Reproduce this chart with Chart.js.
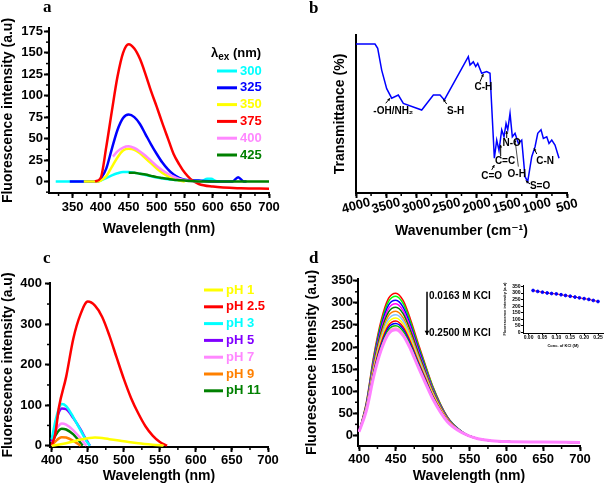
<!DOCTYPE html>
<html>
<head>
<meta charset="utf-8">
<title>Fluorescence panels</title>
<script src="https://cdn.jsdelivr.net/npm/chart.js@4.4.1/dist/chart.umd.min.js"></script>
<style>
  body { margin: 0; background: #fff; }
  #fig { position: relative; width: 608px; height: 485px; overflow: hidden; }
  #fig canvas { position: absolute; }
  .tag { position: absolute; font: bold 17px/17px "Liberation Serif", "DejaVu Serif", serif; color: #000; }
</style>
</head>
<body>
<div id="fig">
  <canvas id="chartA" width="304" height="240" style="left:0;top:0"></canvas>
  <canvas id="chartB" width="304" height="240" style="left:304px;top:0"></canvas>
  <canvas id="chartC" width="304" height="245" style="left:0;top:240px"></canvas>
  <canvas id="chartD" width="304" height="245" style="left:304px;top:240px"></canvas>
  <canvas id="chartInset" width="138" height="82" style="left:470px;top:268px"></canvas>
  <div class="tag" style="left:43px;top:-2px">a</div>
  <div class="tag" style="left:309px;top:-1px">b</div>
  <div class="tag" style="left:43px;top:249px">c</div>
  <div class="tag" style="left:309px;top:249px">d</div>
</div>
<script>
// ---- panel a : excitation wavelength series ----
var aLabels = ['300', '325', '350', '375', '400', '425'];
var aColors = ['#00ffff', '#0000ff', '#ffff00', '#ff0000', '#ff88ff', '#008000'];
var a300x = [320, 395, 400, 410, 420, 430, 440, 450, 460, 470, 480, 490, 500, 520, 550, 580, 590, 597, 605, 612];
var a300y = [0, 0, 1, 4, 7, 9.5, 11, 11, 10, 9, 7.5, 6, 4.5, 2.5, 1, 0.5, 3, 3, 0.5, 0];
var a325x = [345, 395, 400, 410, 420, 430, 440, 450, 460, 470, 480, 490, 500, 510, 520, 530, 540, 550, 575, 600, 635, 645, 655, 660];
var a325y = [0, 0, 3, 15, 38, 60, 74, 78, 75, 67, 55, 43, 32, 22, 14, 8, 4, 2, 1, 0, 0, 5, 0, 0];
var a350x = [370, 395, 400, 410, 420, 430, 440, 450, 460, 470, 480, 490, 500, 510, 520, 530, 540, 550];
var a350y = [0, 0, 1, 6, 17, 28, 36, 38, 37, 33, 27, 21, 15, 10, 6, 3, 1, 0];
var a375x = [390, 400, 410, 420, 430, 440, 450, 460, 470, 480, 490, 500, 510, 520, 530, 540, 550, 560, 575, 600, 650, 700];
var a375y = [0, 4, 40, 82, 122, 150, 160, 155, 143, 125, 105, 87, 68, 50, 32, 20, 10, 3, -3, -6, -8, -8.5];
var a400x = [422, 430, 440, 450, 460, 470, 480, 490, 500, 510, 520, 530, 540, 550, 560, 580];
var a400y = [29, 35, 39.5, 41, 39, 35, 30, 24, 18, 13, 9, 5.5, 3, 1.5, 0.5, 0];
var a425x = [450, 460, 470, 480, 490, 500, 510, 520, 530, 540, 550, 560, 580, 700];
var a425y = [10, 10, 9, 8, 6.5, 5, 4, 3, 2, 1.5, 1, 0.5, 0, 0];
var aXTicks = [350, 400, 450, 500, 550, 600, 650, 700];
var aYTicks = [0, 25, 50, 75, 100, 125, 150, 175];

// ---- panel b : IR spectrum ----
var irWave = [4000, 3685, 3640, 3574, 3491, 3408, 3298, 3215, 2910, 2717, 2606, 2535, 2137, 2109, 2054, 2014, 1981, 1915, 1832, 1777,
              1705, 1666, 1628, 1583, 1545, 1511, 1483, 1445, 1407, 1362, 1307, 1251, 1196, 1152, 1085, 1030, 985, 931, 892, 836, 798, 753, 699, 632];
var irTrans = [94.3, 94.3, 91.6, 77.8, 66, 60, 62, 56.7, 52.5, 62, 62, 58.9, 86.3, 81, 83, 80, 82, 75.8, 76.8, 75.8,
               22, 33.5, 27, 40, 35.6, 44, 40, 50.4, 35.6, 37.8, 31.4, 33.5, 10.3, 7.2, 23, 29.3, 37.8, 40, 34.6, 35.6, 31.4, 33.5, 30.4, 22];
var irBands = ['-OH/NH\u2082', 'S-H', 'C-H', 'C=O', 'C=C', 'N-O', 'O-H', 'S=O', 'C-N'];
var irBandX = [3381, 2346, 1888, 1749, 1528, 1417, 1334, 947, 864];
var irBandY = [51.9, 51.9, 66.9, 10.3, 19.8, 31.4, 12, 4, 20.4];
var irXTicks = [4000, 3500, 3000, 2500, 2000, 1500, 1000, 500];

// ---- panel c : pH series ----
var cLabels = ['pH 1', 'pH 2.5', 'pH 3', 'pH 5', 'pH 7', 'pH 9', 'pH 11'];
var cColors = ['#ffff00', '#ff0000', '#00ffff', '#8000ff', '#ff88ff', '#ff8000', '#008000'];
var c1x = [400, 420, 440, 460, 480, 500, 520, 540, 555];
var c1y = [0, 6, 15, 20, 16, 11, 6, 2.5, 0.5];
var c25x = [400, 405, 410, 420, 430, 440, 450, 460, 470, 480, 490, 500, 510, 520, 530, 540, 550, 560];
var c25y = [0, 30, 95, 170, 265, 325, 356, 346, 318, 272, 218, 165, 118, 80, 48, 25, 9, 0];
var c3x = [400, 405, 410, 414, 420, 430, 440, 448, 453];
var c3y = [15, 60, 92, 103, 98, 70, 38, 12, 0];
var c5x = [400, 405, 410, 414, 420, 430, 440, 448, 453];
var c5y = [10, 50, 83, 92, 90, 68, 40, 14, 0];
var c7x = [400, 405, 410, 414, 420, 430, 440, 448];
var c7y = [8, 35, 50, 55, 52, 38, 18, 0];
var c9x = [400, 405, 410, 414, 420, 430, 440];
var c9y = [2, 10, 18, 21, 20, 12, 0];
var c11x = [400, 405, 410, 414, 420, 430, 443];
var c11y = [5, 25, 38, 42, 40, 28, 0];
var cXTicks = [400, 450, 500, 550, 600, 650, 700];
var cYTicks = [0, 100, 200, 300, 400];

// ---- panel d : KCl quenching ----
var dWave = [400, 410, 420, 430, 440, 450, 460, 470, 480, 490, 500, 520, 540, 560, 580, 600, 650, 700];
var dColors = ['#ff0000', '#00ff00', '#0000ff', '#ff00ff', '#008000', '#ff8000', '#80c0ff', '#ffff00', '#ff0000', '#0000ff', '#00c000', '#ffb0b0', '#ff80ff'];
var dCurves = [
  [8, 75, 180, 260, 310, 322, 305, 262, 210, 160, 112, 42, 8, -7, -12, -14, -15, -16],
  [8, 73, 176, 254, 303, 315, 298, 256, 205, 157, 110, 41, 8, -7, -12, -14, -15, -16],
  [8, 71, 171, 247, 295, 306, 290, 249, 200, 152, 106, 40, 8, -7, -12, -14, -15, -16],
  [8, 69, 167, 240, 287, 298, 282, 243, 194, 148, 104, 39, 7, -7, -12, -14, -15, -16],
  [8, 68, 162, 234, 279, 290, 275, 236, 189, 144, 101, 38, 7, -7, -12, -14, -15, -16],
  [8, 65, 157, 227, 271, 281, 266, 229, 183, 140, 98, 37, 7, -7, -12, -14, -15, -16],
  [8, 64, 153, 220, 263, 273, 259, 222, 178, 136, 95, 35, 7, -7, -12, -14, -15, -16],
  [8, 62, 149, 215, 256, 266, 252, 217, 173, 132, 93, 35, 7, -7, -12, -14, -15, -16],
  [8, 60, 145, 209, 249, 259, 245, 211, 169, 129, 90, 34, 6, -7, -12, -14, -15, -16],
  [8, 59, 142, 204, 244, 253, 240, 206, 165, 126, 88, 33, 6, -7, -12, -14, -15, -16],
  [8, 58, 139, 200, 239, 248, 235, 202, 162, 123, 86, 32, 6, -7, -12, -14, -15, -16],
  [8, 57, 136, 196, 234, 243, 230, 198, 158, 121, 85, 32, 6, -7, -12, -14, -15, -16],
  [8, 56, 134, 193, 230, 239, 226, 195, 156, 119, 83, 31, 6, -7, -12, -14, -15, -16]
];
var dXTicks = [400, 450, 500, 550, 600, 650, 700];
var dYTicks = [0, 50, 100, 150, 200, 250, 300, 350];

// ---- inset : intensity vs KCl ----
var kclConc = [0.0163, 0.033, 0.05, 0.067, 0.083, 0.1, 0.117, 0.133, 0.15, 0.167, 0.183, 0.2, 0.217, 0.233, 0.25];
var kclInt = [320, 313, 307, 301, 297, 294, 288, 282, 276, 270, 264, 258, 252, 244, 236];
var insetXTicks = [0, 0.05, 0.1, 0.15, 0.2, 0.25];
var insetYTicks = [0, 50, 100, 150, 200, 250, 300, 350];

var FAM = '"Liberation Sans", "DejaVu Sans", Arial, sans-serif';
Chart.defaults.font.family = FAM;
Chart.defaults.font.weight = 'bold';
Chart.defaults.color = '#000';

function series(label, xs, ys, color, width) {
  return {
    label: label,
    data: xs.map(function (x, i) { return { x: x, y: ys[i] }; }),
    borderColor: color, backgroundColor: color, borderWidth: width,
    pointRadius: 0, fill: false, cubicInterpolationMode: 'monotone'
  };
}

function axis(box, a, horizontal) {
  return {
    type: 'linear', position: horizontal ? 'bottom' : 'left',
    min: a.min, max: a.max, reverse: !!a.reverse,
    afterBuildTicks: function (s) { s.ticks = a.ticks.map(function (v) { return { value: v }; }); },
    afterFit: function (s) { if (horizontal) s.height = box.h - box.b; else s.width = box.l; },
    border: { color: '#000', width: box.lw },
    grid: { display: a.ticks.length > 0, drawOnChartArea: false, tickLength: box.tick, tickColor: '#000', tickWidth: box.lw },
    ticks: {
      display: a.labels !== false, color: '#000', autoSkip: false, maxRotation: 0, padding: a.pad || 0,
      font: { size: box.fs, weight: 'bold' }, callback: a.fmt || function (v) { return String(v); }
    },
    title: { display: !!a.title, text: a.title, color: '#000', font: { size: box.ts, weight: 'bold' }, padding: a.tpad || 0 }
  };
}

function makeChart(id, box, datasets, xa, ya, plugins) {
  return new Chart(document.getElementById(id), {
    type: 'line',
    data: { datasets: datasets },
    options: {
      responsive: false, animation: false, events: [],
      layout: { padding: { left: 0, top: box.t, right: box.w - box.r, bottom: 0 } },
      plugins: { legend: { display: false }, tooltip: { enabled: false } },
      scales: { x: axis(box, xa, true), y: axis(box, ya, false) }
    },
    plugins: plugins || []
  });
}

// small unlabeled ticks between the labeled ones
function minorTicks(steps, len, width) {
  return {
    id: 'minorTicks',
    afterDraw: function (chart) {
      var ctx = chart.ctx;
      ctx.save();
      ctx.strokeStyle = '#000'; ctx.lineWidth = width;
      Object.keys(steps).forEach(function (k) {
        var s = chart.scales[k], step = steps[k];
        var lo = Math.min(s.min, s.max), hi = Math.max(s.min, s.max);
        for (var v = Math.ceil(lo / step) * step; v <= hi + 1e-9; v += step) {
          var p = s.getPixelForValue(v);
          ctx.beginPath();
          if (k === 'x') { ctx.moveTo(p, s.top); ctx.lineTo(p, s.top + len); }
          else { ctx.moveTo(s.right, p); ctx.lineTo(s.right - len, p); }
          ctx.stroke();
        }
      });
      ctx.restore();
    }
  };
}

// legend with coloured text, drawn inside the plot
function lineLegend(cfg) {
  return {
    id: 'lineLegend',
    afterDraw: function (chart) {
      var ctx = chart.ctx;
      ctx.save();
      ctx.textBaseline = 'middle'; ctx.textAlign = 'left';
      if (cfg.title) cfg.title(ctx);
      chart.data.datasets.forEach(function (ds, i) {
        var y = cfg.y + i * cfg.dy;
        ctx.strokeStyle = ds.borderColor; ctx.lineWidth = 3;
        ctx.beginPath(); ctx.moveTo(cfg.x, y); ctx.lineTo(cfg.x + cfg.len, y); ctx.stroke();
        ctx.fillStyle = ds.borderColor; ctx.font = 'bold 13px ' + FAM;
        ctx.fillText(ds.label, cfg.x + cfg.len + 3, y);
      });
      ctx.restore();
    }
  };
}

// text and arrows placed in data coordinates
function notes(texts, arrows, font) {
  return {
    id: 'notes',
    afterDatasetsDraw: function (chart) {
      var ctx = chart.ctx, sx = chart.scales.x, sy = chart.scales.y;
      ctx.save();
      arrows.forEach(function (a) {
        var x1 = sx.getPixelForValue(a[0]), y1 = sy.getPixelForValue(a[1]);
        var x2 = sx.getPixelForValue(a[2]), y2 = sy.getPixelForValue(a[3]);
        var hs = a[4] || 3, ang = Math.atan2(y2 - y1, x2 - x1);
        ctx.strokeStyle = '#000'; ctx.fillStyle = '#000'; ctx.lineWidth = a[5] || 1;
        ctx.beginPath(); ctx.moveTo(x1, y1); ctx.lineTo(x2, y2); ctx.stroke();
        ctx.beginPath(); ctx.moveTo(x2, y2);
        ctx.lineTo(x2 - hs * Math.cos(ang - 0.5), y2 - hs * Math.sin(ang - 0.5));
        ctx.lineTo(x2 - hs * Math.cos(ang + 0.5), y2 - hs * Math.sin(ang + 0.5));
        ctx.closePath(); ctx.fill();
      });
      ctx.font = font; ctx.fillStyle = '#000'; ctx.textBaseline = 'middle';
      texts.forEach(function (t) {
        ctx.textAlign = t[3] || 'center';
        ctx.fillText(t[0], sx.getPixelForValue(t[1]), sy.getPixelForValue(t[2]));
      });
      ctx.restore();
    }
  };
}

// slanted tick labels for the IR axis
function slantLabels(values, dy, angle) {
  return {
    id: 'slantLabels',
    afterDraw: function (chart) {
      var s = chart.scales.x, ctx = chart.ctx;
      ctx.save();
      ctx.font = 'bold 13px ' + FAM; ctx.fillStyle = '#000';
      ctx.textAlign = 'center'; ctx.textBaseline = 'middle';
      values.forEach(function (v) {
        ctx.save();
        ctx.translate(s.getPixelForValue(v), s.top + dy);
        ctx.rotate(angle);
        ctx.fillText(String(v), 0, 0);
        ctx.restore();
      });
      ctx.restore();
    }
  };
}

var big = { fs: 13, ts: 14, lw: 2, tick: 5 };
function box(w, h, l, t, r, b) { return Object.assign({ w: w, h: h, l: l, t: t, r: r, b: b }, big); }

// panel a
var aX = [a300x, a325x, a350x, a375x, a400x, a425x];
var aY = [a300y, a325y, a350y, a375y, a400y, a425y];
var aSets = aLabels.map(function (lab, i) {
  var s = series(lab, aX[i], aY[i], aColors[i], 2.5);
  s.order = aLabels.length - 1 - i;
  return s;
});
makeChart('chartA', box(304, 240, 49, 28, 269, 193), aSets,
  { min: 308, max: 700, ticks: aXTicks, title: 'Wavelength (nm)', pad: 2, tpad: 2 },
  { min: -13.5, max: 179, ticks: aYTicks, title: 'Fluorescence intensity (a.u)', pad: 1 },
  [minorTicks({ x: 25, y: 12.5 }, 3, 1.5),
   lineLegend({ x: 217, y: 71, dy: 16.8, len: 20, title: function (ctx) {
     var x0 = 211, y0 = 53;
     ctx.fillStyle = '#000';
     ctx.font = 'bold 13px ' + FAM; ctx.fillText('\u03bb', x0, y0);
     var w1 = ctx.measureText('\u03bb').width;
     ctx.font = 'bold 10px ' + FAM; ctx.fillText('ex', x0 + w1, y0 + 4);
     var w2 = ctx.measureText('ex').width;
     ctx.font = 'bold 13px ' + FAM; ctx.fillText(' (nm)', x0 + w1 + w2, y0);
   } })]);

// panel b
var irTexts = irBands.map(function (t, i) { return [t, irBandX[i], irBandY[i]]; });
var irArrows = [
  [3507, 56.8, 3436, 60], [2495, 56.3, 2551, 59.3], [1943, 70.4, 1888, 75.3],
  [1749, 14.6, 1705, 17.7], [1600, 23.4, 1600, 30.4], [1500, 34.8, 1500, 39.2],
  [1307, 16.7, 1362, 33.5, 2.5, 0.7], [1113, 5.7, 1185, 7.8], [1002, 24.7, 1047, 28.3]
];
makeChart('chartB', box(304, 240, 52, 35, 263, 193),
  [Object.assign(series('IR', irWave, irTrans, '#0000ff', 1.5), { cubicInterpolationMode: 'default', tension: 0 })],
  { min: 500, max: 4000, reverse: true, ticks: irXTicks, labels: false, title: 'Wavenumber (cm\u207b\u00b9)' },
  { min: 0, max: 100, ticks: [], labels: false, title: 'Transmittance (%)', tpad: 28 },
  [minorTicks({ x: 250 }, 3, 1.5), slantLabels(irXTicks, 13, -0.26),
   notes(irTexts, irArrows, 'bold 10px ' + FAM)]);

// panel c
var cX = [c1x, c25x, c3x, c5x, c7x, c9x, c11x];
var cY = [c1y, c25y, c3y, c5y, c7y, c9y, c11y];
var cSets = cLabels.map(function (lab, i) { return series(lab, cX[i], cY[i], cColors[i], 2.5); });
makeChart('chartC', box(304, 245, 50, 43, 268, 207), cSets,
  { min: 397.6, max: 700, ticks: cXTicks, title: 'Wavelength (nm)', pad: 1 },
  { min: -3.3, max: 402, ticks: cYTicks, title: 'Fluorescence intensity (a.u)', pad: 3 },
  [minorTicks({ x: 25, y: 50 }, 3, 1.5), lineLegend({ x: 204, y: 50, dy: 16.8, len: 19 })]);

// panel d
var dSets = dCurves.map(function (ys, i) {
  var s = series('c' + i, dWave, ys, dColors[i], i === dCurves.length - 1 ? 3 : 1.5);
  s.order = dCurves.length - 1 - i;
  return s;
});
makeChart('chartD', box(304, 245, 54, 39, 276, 206), dSets,
  { min: 398.6, max: 700, ticks: dXTicks, title: 'Wavelength (nm)', pad: 1 },
  { min: -24, max: 354, ticks: dYTicks, title: 'Fluorescence intensity (a.u)', pad: 0 },
  [minorTicks({ x: 25, y: 25 }, 3, 1.5),
   notes([['0.0163 M KCl', 495, 314, 'left'], ['0.2500 M KCl', 495, 232, 'left']],
         [[492.3, 325, 492.3, 227, 5, 1.5]], 'bold 10px ' + FAM)]);

// inset of panel d
var insetSet = series('KCl', kclConc, kclInt, '#ff0000', 1);
insetSet.pointRadius = 1.4; insetSet.pointBackgroundColor = '#0000ff'; insetSet.pointBorderColor = '#0000ff';
insetSet.cubicInterpolationMode = 'default'; insetSet.tension = 0;
makeChart('chartInset', { w: 138, h: 82, l: 53, t: 17, r: 137, b: 65, fs: 5, ts: 4, lw: 1, tick: 2 }, [insetSet],
  { min: -0.02, max: 0.268, ticks: insetXTicks, title: 'Conc. of KCl (M)', pad: 0, tpad: 1.6, fmt: function (v) { return v.toFixed(2); } },
  { min: -4.5, max: 362, ticks: insetYTicks, title: 'Fluorescence intensity (a.u)', pad: 0.5, tpad: 32 });
</script>
</body>
</html>
